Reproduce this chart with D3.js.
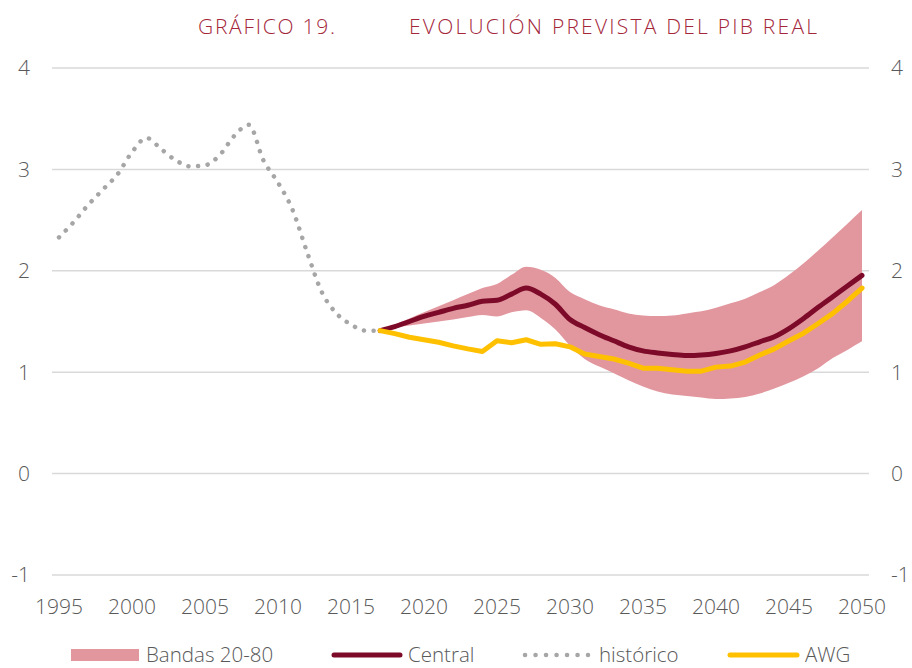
<!DOCTYPE html>
<html><head><meta charset="utf-8">
<script src="https://cdn.jsdelivr.net/npm/d3@7"></script>
<style>
html,body{margin:0;padding:0;background:#fff;}
svg text{font-family:"Open Sans","Lato",sans-serif;font-weight:300;}
</style></head>
<body><svg id="c" width="912" height="668"></svg>
<script>
const histYears = d3.range(1995, 2018);
const histValues = [2.33,2.48,2.65,2.80,2.95,3.17,3.31,3.20,3.09,3.03,3.04,3.14,3.33,3.44,3.09,2.87,2.60,2.18,1.79,1.58,1.47,1.41,1.41];

const projYears = d3.range(2017, 2051);
const centralValues = [1.41,1.45,1.50,1.55,1.59,1.63,1.66,1.70,1.71,1.77,1.83,1.77,1.67,1.52,1.44,1.37,1.31,1.25,1.21,1.19,1.175,1.165,1.17,1.185,1.21,1.25,1.30,1.35,1.43,1.53,1.64,1.745,1.85,1.955];
const awgValues = [1.41,1.38,1.345,1.32,1.295,1.26,1.23,1.205,1.31,1.29,1.32,1.275,1.28,1.25,1.18,1.155,1.13,1.09,1.04,1.04,1.025,1.01,1.01,1.05,1.06,1.10,1.17,1.23,1.31,1.385,1.48,1.58,1.70,1.83];
const bandUpper = [1.41,1.47,1.53,1.59,1.65,1.71,1.77,1.83,1.87,1.96,2.04,2.01,1.93,1.79,1.72,1.66,1.62,1.58,1.56,1.555,1.56,1.58,1.60,1.635,1.68,1.725,1.79,1.86,1.96,2.075,2.20,2.33,2.465,2.60];
const bandLower = [1.41,1.44,1.46,1.48,1.50,1.52,1.545,1.565,1.55,1.59,1.61,1.535,1.42,1.26,1.13,1.055,0.99,0.92,0.86,0.81,0.78,0.765,0.75,0.735,0.74,0.755,0.79,0.84,0.895,0.96,1.04,1.14,1.22,1.305];

const xTicks = [1995,2000,2005,2010,2015,2020,2025,2030,2035,2040,2045,2050];
const yTicks = [-1,0,1,2,3,4];
const titleLeft = "GRÁFICO 19.";
const titleRight = "EVOLUCIÓN PREVISTA DEL PIB REAL";
const legendLabels = ["Bandas 20-80","Central","histórico","AWG"];

const colors = {band:"#e2979f", central:"#7d0a28", hist:"#a6a6a6", awg:"#ffc000", grid:"#d9d9d9", text:"#595959", title:"#a3263a"};

const svg = d3.select("#c");
const x = d3.scaleLinear().domain([1995,2050]).range([59,862]);
const y = d3.scaleLinear().domain([-1,4]).range([575,68]);

// grid
svg.append("g").selectAll("line").data(yTicks).join("line")
  .attr("x1",52).attr("x2",869)
  .attr("y1",d=>y(d)).attr("y2",d=>y(d))
  .attr("stroke",colors.grid).attr("stroke-width",1.5);

// y labels left & right
svg.append("g").selectAll("text").data(yTicks).join("text")
  .attr("x",30).attr("y",d=>y(d)).attr("dy","0.35em")
  .attr("text-anchor","end").attr("font-size",21).attr("fill",colors.text)
  .text(d=>d);
svg.append("g").selectAll("text").data(yTicks).join("text")
  .attr("x",891).attr("y",d=>y(d)).attr("dy","0.35em")
  .attr("text-anchor","start").attr("font-size",21).attr("fill",colors.text)
  .text(d=>d);

// x labels
svg.append("g").selectAll("text").data(xTicks).join("text")
  .attr("x",d=>x(d)).attr("y",607).attr("dy","0.35em")
  .attr("text-anchor","middle").attr("font-size",21).attr("fill",colors.text)
  .text(d=>d);

// band
const bandData = projYears.map((yr,i)=>({yr, lo:bandLower[i], hi:bandUpper[i]}));
svg.append("path").datum(bandData)
  .attr("d", d3.area().x(d=>x(d.yr)).y0(d=>y(d.lo)).y1(d=>y(d.hi)).curve(d3.curveMonotoneX))
  .attr("fill",colors.band);

// historic
const histData = histYears.map((yr,i)=>({yr, v:histValues[i]}));
svg.append("path").datum(histData)
  .attr("d", d3.line().x(d=>x(d.yr)).y(d=>y(d.v)).curve(d3.curveMonotoneX))
  .attr("fill","none").attr("stroke",colors.hist).attr("stroke-width",4.5)
  .attr("stroke-linecap","round").attr("stroke-dasharray","0.1 9.6");

// central
const cData = projYears.map((yr,i)=>({yr, v:centralValues[i]}));
svg.append("path").datum(cData)
  .attr("d", d3.line().x(d=>x(d.yr)).y(d=>y(d.v)).curve(d3.curveMonotoneX))
  .attr("fill","none").attr("stroke",colors.central).attr("stroke-width",5)
  .attr("stroke-linecap","round").attr("stroke-linejoin","round");

// awg
const aData = projYears.map((yr,i)=>({yr, v:awgValues[i]}));
svg.append("path").datum(aData)
  .attr("d", d3.line().x(d=>x(d.yr)).y(d=>y(d.v)))
  .attr("fill","none").attr("stroke",colors.awg).attr("stroke-width",5)
  .attr("stroke-linecap","round").attr("stroke-linejoin","round");

// title
svg.append("text").attr("x",198).attr("y",34).attr("font-size",21).attr("fill",colors.title)
  .attr("textLength",137).attr("lengthAdjust","spacing").text(titleLeft);
svg.append("text").attr("x",409).attr("y",34).attr("font-size",21).attr("fill",colors.title)
  .attr("textLength",408).attr("lengthAdjust","spacing").text(titleRight);

// legend
const ly = 655;
const lg = svg.append("g");
lg.append("rect").attr("x",71).attr("y",ly-6).attr("width",68).attr("height",12).attr("fill",colors.band);
lg.append("text").attr("x",146).attr("y",ly).attr("dy","0.35em").attr("font-size",20.5).attr("fill",colors.text).text(legendLabels[0]);
lg.append("line").attr("x1",334).attr("x2",400).attr("y1",ly).attr("y2",ly).attr("stroke",colors.central).attr("stroke-width",5).attr("stroke-linecap","round");
lg.append("text").attr("x",408).attr("y",ly).attr("dy","0.35em").attr("font-size",20.5).attr("fill",colors.text).text(legendLabels[1]);
lg.append("line").attr("x1",525).attr("x2",588).attr("y1",ly).attr("y2",ly).attr("stroke",colors.hist).attr("stroke-width",4.5).attr("stroke-linecap","round").attr("stroke-dasharray","0.1 10.4");
lg.append("text").attr("x",599).attr("y",ly).attr("dy","0.35em").attr("font-size",20.5).attr("fill",colors.text).text(legendLabels[2]);
lg.append("line").attr("x1",730).attr("x2",797).attr("y1",ly).attr("y2",ly).attr("stroke",colors.awg).attr("stroke-width",5).attr("stroke-linecap","round");
lg.append("text").attr("x",805).attr("y",ly).attr("dy","0.35em").attr("font-size",20.5).attr("fill",colors.text).text(legendLabels[3]);
</script></body></html>
